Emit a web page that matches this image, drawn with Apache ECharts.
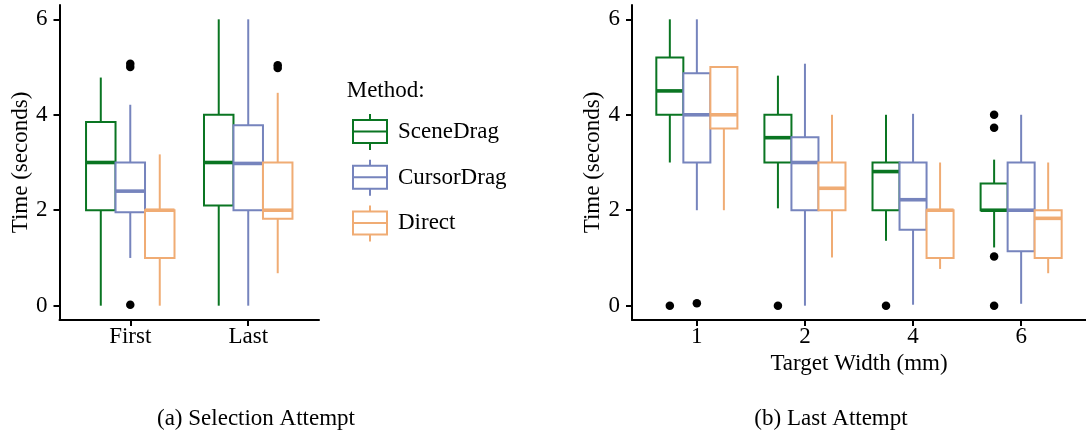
<!DOCTYPE html>
<html>
<head>
<meta charset="utf-8">
<script src="https://cdn.jsdelivr.net/npm/echarts@6/dist/echarts.min.js"></script>
<style>
  html, body { margin: 0; padding: 0; background: #fff; }
  #main { width: 1086px; height: 438px; }
</style>
</head>
<body>
<div id="main"></div>
<script>
// methods and colours
var methods = ['SceneDrag', 'CursorDrag', 'Direct'];
var colors = ['#0A7522', '#7684BD', '#F0AC74'];

// (a) selection attempt, each box = [min, q1, median, q3, max]
var attempts = ['First', 'Last'];
var sceneDragA = [[0, 2.0, 3.0, 3.85, 4.78], [0, 2.1, 3.0, 4.0, 6.0]];
var cursorDragA = [[1.0, 1.96, 2.4, 3.0, 4.21], [0, 2.0, 2.98, 3.78, 6.0]];
var directA = [[0, 1.0, 2.0, 2.0, 3.17], [0.68, 1.82, 2.0, 3.0, 4.46]];
// outliers: [category index, method index, value]
var outliersA = [[0, 1, 5.0], [0, 1, 5.07], [0, 1, 0.02], [1, 2, 4.98], [1, 2, 5.04]];

// (b) last attempt by target width
var widths = ['1', '2', '4', '6'];
var sceneDragB = [[3.0, 4.0, 4.5, 5.2, 6.0], [2.04, 3.0, 3.52, 4.0, 4.82], [1.36, 2.0, 2.81, 3.0, 4.0], [1.22, 2.0, 2.0, 2.56, 3.06]];
var cursorDragB = [[2.0, 3.0, 4.0, 4.87, 6.0], [0, 2.0, 3.0, 3.53, 5.07], [0.02, 1.59, 2.22, 3.0, 4.02], [0.04, 1.14, 2.0, 3.0, 4.0]];
var directB = [[2.0, 3.71, 4.0, 5.0, 5.0], [1.01, 2.0, 2.46, 3.0, 4.0], [0.77, 1.0, 2.0, 2.0, 3.0], [0.68, 1.0, 1.83, 2.0, 3.0]];
var outliersB = [[0, 0, 0], [0, 1, 0.05], [1, 0, 0], [2, 0, 0], [3, 0, 4.0], [3, 0, 3.73], [3, 0, 1.03], [3, 0, 0]];

var yTicks = [0, 2, 4, 6];

var FONT = 'Liberation Serif';
var FS = 23;
var BOX_W = 0.25;
var dodge = [-0.25, 0, 0.25];

function boxRows(stats) {
  return stats.map(function (s, i) { return [i + 1].concat(s); });
}

function outlierRows(list) {
  return list.map(function (o) { return [o[0] + 1 + dodge[o[1]], o[2]]; });
}

function boxRenderer(offset, color) {
  return function (params, api) {
    var x = api.value(0) + offset;
    var lo = api.coord([x, api.value(1)]);
    var q1 = api.coord([x, api.value(2)]);
    var md = api.coord([x, api.value(3)]);
    var q3 = api.coord([x, api.value(4)]);
    var hi = api.coord([x, api.value(5)]);
    var w = api.size([BOX_W, 0])[0];
    var l = q1[0] - w / 2;
    return {
      type: 'group',
      children: [
        { type: 'line', shape: { x1: lo[0], y1: lo[1], x2: q1[0], y2: q1[1] }, style: { stroke: color, lineWidth: 2 } },
        { type: 'line', shape: { x1: q3[0], y1: q3[1], x2: hi[0], y2: hi[1] }, style: { stroke: color, lineWidth: 2 } },
        { type: 'rect', shape: { x: l, y: q3[1], width: w, height: q1[1] - q3[1] }, style: { fill: '#fff', stroke: color, lineWidth: 2 } },
        { type: 'line', shape: { x1: l, y1: md[1], x2: l + w, y2: md[1] }, style: { stroke: color, lineWidth: 3.6 } }
      ]
    };
  };
}

function xAxisFor(idx, cats, max, name) {
  var vals = cats.map(function (c, i) { return i + 1; });
  return {
    type: 'value', gridIndex: idx, min: 0.4, max: max,
    name: name, nameLocation: 'middle', nameGap: 26,
    nameTextStyle: { fontFamily: FONT, fontSize: FS, color: '#000' },
    axisLine: { onZero: false, lineStyle: { color: '#000', width: 2 } },
    axisTick: { customValues: vals, length: 6, lineStyle: { color: '#000', width: 2 } },
    axisLabel: {
      customValues: vals, margin: 5, fontFamily: FONT, fontSize: FS, color: '#000',
      formatter: function (v) { return cats[Math.round(v) - 1]; }
    },
    splitLine: { show: false }
  };
}

function yAxisFor(idx, gap) {
  return {
    type: 'value', gridIndex: idx, min: -0.3, max: 6.3,
    name: 'Time (seconds)', nameLocation: 'middle', nameRotate: 90, nameGap: gap,
    nameTextStyle: { fontFamily: FONT, fontSize: FS, color: '#000' },
    axisLine: { show: true, onZero: false, lineStyle: { color: '#000', width: 2 } },
    axisTick: { show: true, customValues: yTicks, length: 6, lineStyle: { color: '#000', width: 2 } },
    axisLabel: { customValues: yTicks, margin: 12, fontFamily: FONT, fontSize: FS, color: '#000' },
    splitLine: { show: false }
  };
}

var series = [];
var panels = [[sceneDragA, cursorDragA, directA], [sceneDragB, cursorDragB, directB]];
panels.forEach(function (panel, p) {
  panel.forEach(function (stats, m) {
    series.push({
      type: 'custom', name: methods[m], xAxisIndex: p, yAxisIndex: p,
      itemStyle: { color: colors[m] },
      encode: { x: 0, y: [1, 2, 3, 4, 5] },
      renderItem: boxRenderer(dodge[m], colors[m]),
      data: boxRows(stats)
    });
  });
});
[outliersA, outliersB].forEach(function (list, p) {
  series.push({
    type: 'scatter', name: 'outliers', xAxisIndex: p, yAxisIndex: p,
    symbolSize: 8.5, itemStyle: { color: '#000', opacity: 1 }, z: 5,
    data: outlierRows(list)
  });
});

var chart = echarts.init(document.getElementById('main'), null, { renderer: 'canvas' });
chart.setOption({
  animation: false,
  backgroundColor: '#fff',
  grid: [
    { left: 59.5, top: 5, width: 259.5, height: 315 },
    { left: 632, top: 5, width: 456, height: 315 }
  ],
  xAxis: [xAxisFor(0, attempts, 2.6, ''), xAxisFor(1, widths, 4.6, 'Target Width (mm)')],
  yAxis: [yAxisFor(0, 25), yAxisFor(1, 27)],
  legend: {
    orient: 'vertical', left: 352, top: 113, padding: 0,
    itemWidth: 34, itemHeight: 36, itemGap: 7.7, selectedMode: false,
    icon: 'path://M17,0L17,6M0,6L34,6L34,29L0,29ZM0,17.5L34,17.5M17,29L17,36',
    textStyle: { fontFamily: FONT, fontSize: FS, color: '#000', padding: [0, 0, 0, 6] },
    data: methods.map(function (m, i) {
      return { name: m, itemStyle: { color: '#fff', borderColor: colors[i], borderWidth: 2 } };
    })
  },
  graphic: [
    { type: 'text', x: 346.7, y: 91, style: { text: 'Method:', font: FS + 'px "Liberation Serif"', fill: '#000', textAlign: 'left', textVerticalAlign: 'middle' } },
    { type: 'text', x: 256, y: 419, style: { text: '(a) Selection Attempt', font: FS + 'px "Liberation Serif"', fill: '#000', textAlign: 'center', textVerticalAlign: 'middle' } },
    { type: 'text', x: 831, y: 419, style: { text: '(b) Last Attempt', font: FS + 'px "Liberation Serif"', fill: '#000', textAlign: 'center', textVerticalAlign: 'middle' } }
  ],
  series: series
});
</script>
</body>
</html>
